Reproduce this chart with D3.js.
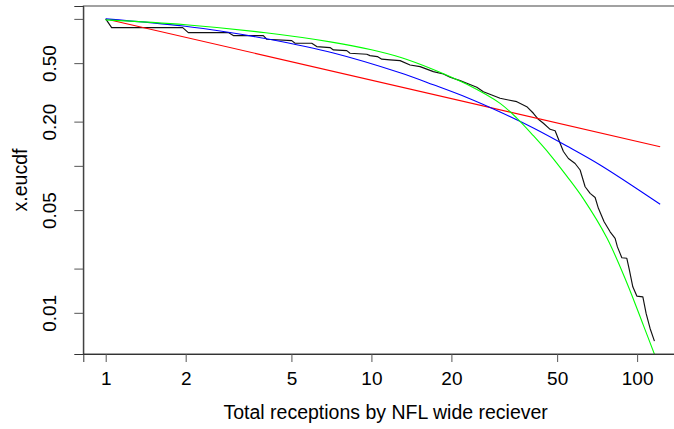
<!DOCTYPE html>
<html>
<head>
<meta charset="utf-8">
<script src="https://cdn.jsdelivr.net/npm/d3@7"></script>
<style>
  html, body { margin: 0; padding: 0; background: #fff; }
  svg text { font-family: Helvetica, Arial, "Liberation Sans", sans-serif; fill: #000; }
</style>
</head>
<body>
<svg id="chart" width="674" height="429"></svg>
<script>
// Empirical complementary CDF of receptions (x.eucdf), as a polyline
const ecdfX = [1, 1.053, 1.949, 2.046, 2.894, 3.022, 3.920, 4.037, 5.015, 5.160,
  5.963, 6.228, 6.988, 7.193, 8.077, 8.31, 9.61, 9.88, 10.53, 10.94,
  11.75, 12.82, 13.98, 15.25, 17.11, 18.66, 19.78, 21.56, 22.86, 24.93,
  26.39, 28.38, 30.50, 32.78, 35.25, 38.44, 40.70, 42.50, 44.39, 47.06,
  49.13, 51.30, 52.80, 55.14, 58.43, 61.03, 63.73, 66.55, 69.50, 71.50,
  75.13, 79.14, 82.64, 84.31, 87.59, 91.46, 93.54, 96.34, 99.75, 105.1,
  108.1, 111.9, 116.2];
const ecdfY = [1, 0.873, 0.873, 0.807, 0.807, 0.770, 0.770, 0.727, 0.711, 0.683,
  0.683, 0.648, 0.638, 0.615, 0.608, 0.584, 0.575, 0.5625, 0.554, 0.532,
  0.526, 0.520, 0.486, 0.4733, 0.4377, 0.422, 0.401, 0.380, 0.3648, 0.3426,
  0.3197, 0.3038, 0.2884, 0.2808, 0.2734, 0.2528, 0.2279, 0.2075, 0.1949, 0.1773,
  0.1735, 0.1424, 0.1252, 0.1122, 0.1038, 0.0937, 0.0721, 0.0650, 0.0609, 0.0514,
  0.0417, 0.0356, 0.0321, 0.0281, 0.0237, 0.0235, 0.0195, 0.01503, 0.0130, 0.01285,
  0.0099, 0.00783, 0.00642];

// Power-law fit (red)
const powerX = [1.04, 122.1];
const powerY = [0.984, 0.135];

// Log-normal fit (blue)
const lognormX = [1, 1.959, 2.894, 4.037, 7.193, 12.82, 17.11, 22.86, 30.50, 40.70, 54.38, 72.57, 122.1];
const lognormY = [1, 0.895, 0.811, 0.732, 0.586, 0.4298, 0.3560, 0.2918, 0.2325, 0.1810, 0.1365, 0.1014, 0.0548];

// Exponential fit (green)
const expX = [1, 2, 4, 7, 10, 13, 17, 22.86, 30.5, 35.25, 40.7, 47.06, 54.38, 62.8, 76.9, 91.46, 105.6, 116.2];
const expY = [0.984, 0.912, 0.805, 0.698, 0.617, 0.5445, 0.4550, 0.3589, 0.2661, 0.2113, 0.1603, 0.1189, 0.0851, 0.0596, 0.0324, 0.01603, 0.00822, 0.00523];

// Axis limits and ticks
const xLimits = [1, 128];
const yLimits = [0.00642, 1];
const xTicks = [1, 2, 5, 10, 20, 50, 100];
const xTickLabels = ["1", "2", "5", "10", "20", "50", "100"];
const yTicks = [0.01, 0.02, 0.05, 0.1, 0.2, 0.5, 1];
const yTickLabels = ["0.01", "", "0.05", "", "0.20", "0.50", ""];

const xTitle = "Total receptions by NFL wide reciever";
const yTitle = "x.eucdf";

// Plot region (box); R-style 4% padding on the log axes
const box = { left: 83.3, right: 688, top: 6, bottom: 354 };
function padLog(lim) {
  const a = Math.log10(lim[0]), b = Math.log10(lim[1]), e = 0.04 * (b - a);
  return [Math.pow(10, a - e), Math.pow(10, b + e)];
}
const x = d3.scaleLog().domain(padLog(xLimits)).range([box.left, box.right]);
const y = d3.scaleLog().domain(padLog(yLimits)).range([box.bottom, box.top]);

const svg = d3.select("#chart");

svg.append("defs").append("clipPath").attr("id", "plotClip")
  .append("rect")
  .attr("x", box.left).attr("y", box.top)
  .attr("width", box.right - box.left).attr("height", box.bottom - box.top);

const plot = svg.append("g").attr("clip-path", "url(#plotClip)");

const zip = (xs, ys) => xs.map((v, i) => [v, ys[i]]);
const straight = d3.line().x(d => x(d[0])).y(d => y(d[1]));
const smooth = d3.line().x(d => x(d[0])).y(d => y(d[1])).curve(d3.curveCatmullRom.alpha(0.5));

plot.append("path").datum(zip(ecdfX, ecdfY))
  .attr("d", straight).attr("fill", "none").attr("stroke", "#111").attr("stroke-width", 1.15)
  .attr("stroke-linejoin", "round");
plot.append("path").datum(zip(powerX, powerY))
  .attr("d", straight).attr("fill", "none").attr("stroke", "#ff0000").attr("stroke-width", 1.1);
plot.append("path").datum(zip(lognormX, lognormY))
  .attr("d", smooth).attr("fill", "none").attr("stroke", "#0000ff").attr("stroke-width", 1.1);
plot.append("path").datum(zip(expX, expY))
  .attr("d", smooth).attr("fill", "none").attr("stroke", "#00ff00").attr("stroke-width", 1.1);

// Box
svg.append("rect")
  .attr("x", box.left).attr("y", box.top)
  .attr("width", box.right - box.left).attr("height", box.bottom - box.top)
  .attr("fill", "none").attr("stroke", "#444").attr("stroke-width", 1);

// Bottom axis
const xAxis = d3.axisBottom(x).tickValues(xTicks)
  .tickFormat((d, i) => xTickLabels[i]).tickSize(8).tickPadding(10);
const gx = svg.append("g").attr("transform", `translate(0,${box.bottom})`).call(xAxis);
gx.select(".domain").attr("stroke", "#333");
gx.selectAll(".tick line").attr("stroke", "#555");
gx.selectAll(".tick text").attr("font-size", 19).attr("fill", "#000");

// Left axis (labels rotated, as in base graphics)
const yAxis = d3.axisLeft(y).tickValues(yTicks)
  .tickFormat((d, i) => yTickLabels[i]).tickSize(9);
const gy = svg.append("g").attr("transform", `translate(${box.left},0)`).call(yAxis);
gy.select(".domain").attr("stroke", "#333");
gy.selectAll(".tick line").attr("stroke", "#555");
gy.selectAll(".tick text")
  .attr("font-size", 19).attr("fill", "#000")
  .attr("x", null).attr("dy", null)
  .attr("text-anchor", "middle")
  .attr("transform", "translate(-27,0) rotate(-90)");

// Axis titles, centred on the plot region
svg.append("text")
  .attr("x", (box.left + box.right) / 2).attr("y", 419)
  .attr("text-anchor", "middle").attr("font-size", 19.5)
  .text(xTitle);
svg.append("text")
  .attr("transform", `translate(27,${(box.top + box.bottom) / 2}) rotate(-90)`)
  .attr("text-anchor", "middle").attr("font-size", 19.5)
  .text(yTitle);
</script>
</body>
</html>
